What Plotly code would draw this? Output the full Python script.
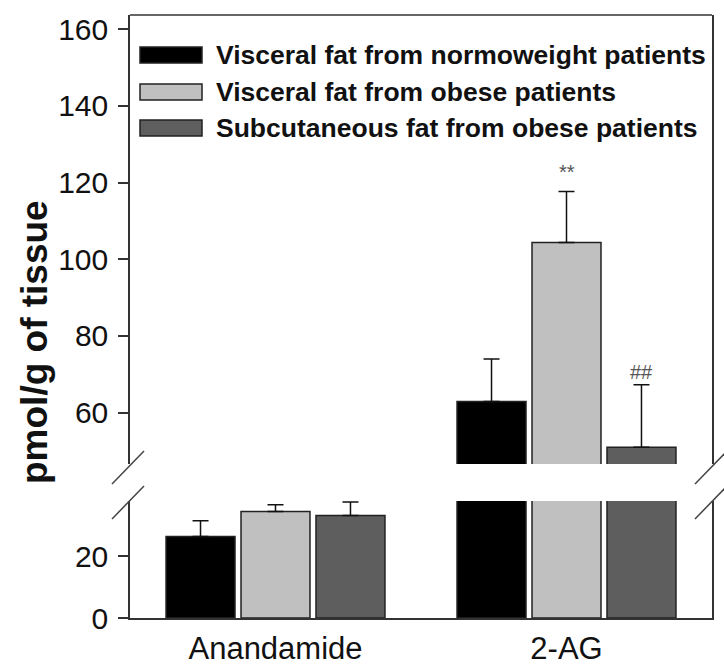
import plotly.graph_objects as go

# ---- data ----
categories = ["Anandamide", "2-AG"]
series_names = [
    "Visceral fat from normoweight patients",
    "Visceral fat from obese patients",
    "Subcutaneous fat from obese patients",
]
normo_visceral = [26.5, 62.9]
obese_visceral = [34.6, 104.4]
obese_subcut = [33.3, 51.0]
normo_visceral_err = [5.1, 11.1]
obese_visceral_err = [2.2, 13.3]
obese_subcut_err = [4.4, 16.3]
significance = [["", ""], ["", "**"], ["", "##"]]  # per series, per category
lower_ticks = [0, 20]
upper_ticks = [60, 80, 100, 120, 140, 160]

values = [normo_visceral, obese_visceral, obese_subcut]
errors = [normo_visceral_err, obese_visceral_err, obese_subcut_err]

# ---- style ----
colors = ["#000000", "#c0c0c0", "#5e5e5e"]
outline = "#222222"
font_family = "Liberation Sans, Arial, sans-serif"
W, H = 724, 668
ML, MR, MT, MB = 130, 12, 15, 50
PW, PH = W - ML - MR, H - MT - MB

def px_x(px):
    return (px - ML) / PW

def px_y(py):
    return (H - MB - py) / PH

lower_top_px = 501
upper_bot_px = 464
lower_range = [0, 38.0]
upper_range = [46.6, 163.7]
bargap = 0.227
bargroupgap = 0.08

fig = go.Figure()
for i, name in enumerate(series_names):
    for yax in ["y", "y2"]:
        fig.add_trace(go.Bar(
            x=categories, y=values[i], name=name, yaxis=yax,
            marker=dict(color=colors[i], line=dict(color=outline, width=1.5)),
            error_y=dict(type="data", symmetric=False, array=errors[i],
                         arrayminus=[0] * len(errors[i]),
                         color="#111111", thickness=1.5, width=8),
            showlegend=False,
        ))

axis_line = dict(showline=True, linecolor="#333333", linewidth=1.5)

fig.update_layout(
    width=W, height=H,
    margin=dict(l=ML, r=MR, t=MT, b=MB, autoexpand=False),
    paper_bgcolor="white", plot_bgcolor="white",
    barmode="group", bargap=bargap, bargroupgap=bargroupgap,
    font=dict(family=font_family, color="#111111"),
    xaxis=dict(**axis_line, ticks="", showgrid=False, zeroline=False,
               tickfont=dict(size=31, color="#111111"), ticklabelstandoff=2,
               range=[-0.5, 1.5], anchor="y"),
    yaxis=dict(**axis_line, mirror=True, domain=[0, px_y(lower_top_px)],
               range=lower_range, tickvals=lower_ticks, ticks="outside",
               ticklen=10, tickwidth=1.5, tickcolor="#333333",
               showgrid=False, zeroline=False,
               tickfont=dict(size=30, color="#111111"), ticklabelstandoff=4),
    yaxis2=dict(**axis_line, mirror=True, domain=[px_y(upper_bot_px), 1],
                range=upper_range, tickvals=upper_ticks, ticks="outside",
                ticklen=10, tickwidth=1.5, tickcolor="#333333",
                showgrid=False, zeroline=False, anchor="x",
                tickfont=dict(size=30, color="#111111"), ticklabelstandoff=4),
)

shapes = []
# top frame line
shapes.append(dict(type="line", xref="paper", yref="paper", x0=0, x1=1, y0=1, y1=1,
                   line=dict(color="#333333", width=1.5)))
# axis break marks
for xl in [112, 695]:
    for (yb, yt) in [(484, 451), (519, 486)]:
        shapes.append(dict(type="line", xref="paper", yref="paper",
                           x0=px_x(xl), x1=px_x(xl + 32), y0=px_y(yb), y1=px_y(yt),
                           line=dict(color="#444444", width=1.5)))
# legend swatches
legend_rows = [55, 92, 128]
for i, name in enumerate(series_names):
    yc = legend_rows[i]
    shapes.append(dict(type="rect", xref="paper", yref="paper",
                       x0=px_x(140), x1=px_x(202), y0=px_y(yc + 8), y1=px_y(yc - 8),
                       fillcolor=colors[i], line=dict(color=outline, width=1.5)))
fig.update_layout(shapes=shapes)

annotations = []
for i, name in enumerate(series_names):
    annotations.append(dict(text=name, xref="paper", yref="paper",
                            x=px_x(214), y=px_y(legend_rows[i]),
                            xanchor="left", yanchor="middle", showarrow=False,
                            font=dict(size=26.5, color="#111111", family=font_family,
                                      weight="bold")))

# significance marks placed above error bars
slot = (1 - bargap) / len(series_names)
shift = {"**": 6, "##": 0}
for i in range(len(series_names)):
    for j, cat in enumerate(categories):
        mark = significance[i][j]
        if not mark:
            continue
        xoff = -(1 - bargap) / 2 + slot * (i + 0.5)
        annotations.append(dict(text=mark, xref="x", yref="y2", x=j + xoff,
                                y=values[i][j] + errors[i][j], xanchor="center",
                                yanchor="bottom", yshift=shift.get(mark, 4),
                                showarrow=False,
                                font=dict(size=20, color="#555555", family=font_family)))

# y-axis title spanning both sections
annotations.append(dict(text="pmol/g of tissue", xref="paper", yref="paper",
                        x=px_x(34), y=px_y(342), textangle=-90, showarrow=False,
                        xanchor="center", yanchor="middle",
                        font=dict(size=37, color="#111111", family=font_family,
                                  weight="bold")))
fig.update_layout(annotations=annotations)

fig.write_html("out.html")
